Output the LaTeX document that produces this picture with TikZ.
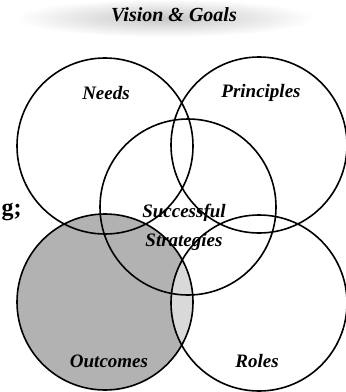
\documentclass[tikz,border=0pt]{standalone}
\usepackage{fontspec}
\setmainfont{Liberation Serif}
\usetikzlibrary{positioning}
\begin{document}
\begin{tikzpicture}[x=1pt,y=-1pt]

\tikzset{
ringunit/.style={
draw=black,
line width=1.6pt,
circle,
minimum size=176pt,
inner sep=0pt
},
ringlabel/.style={
align=center,
font=\fontsize{19}{29}\selectfont\bfseries\itshape
}
}

\useasboundingbox (0,0) rectangle (346,392);

%--------------------------------------------------
% HEADER
%--------------------------------------------------

\shade[inner color=gray!45,outer color=white]
(165,18) ellipse (150pt and 19pt);

\node[ringlabel,font=\fontsize{20}{24}\selectfont\bfseries\itshape] (vision) at (174,15)
{Vision \& Goals};

\node[anchor=west,font=\fontsize{24}{26}\selectfont\bfseries] (cut) at (-2,212)
{g;};

%--------------------------------------------------
% SHADED OUTCOMES
%--------------------------------------------------

\fill[gray!60] (105,302) circle (88pt);
\begin{scope}
\clip (259,303) circle (87pt);
\fill[gray!30] (105,302) circle (88pt);
\end{scope}

%--------------------------------------------------
% RINGS
%--------------------------------------------------

\node[ringunit] (needs) at (105,146) {};
\node[ringunit] (principles) at (259,145) {};
\node[ringunit] (strategies) at (188,207) {};
\node[ringunit] (outcomes) at (105,302) {};
\node[ringunit] (roles) at (259,303) {};

%--------------------------------------------------
% LABELS
%--------------------------------------------------

\node[ringlabel] (needstext) at (106,93) {Needs};
\node[ringlabel] (principlestext) at (261,93) {Principles};
\node[ringlabel] (strategiestext) at (184,227) {Successful\\Strategies};
\node[ringlabel] (outcomestext) at (109,361) {Outcomes};
\node[ringlabel] (rolestext) at (257,361) {Roles};

\end{tikzpicture}
\end{document}
